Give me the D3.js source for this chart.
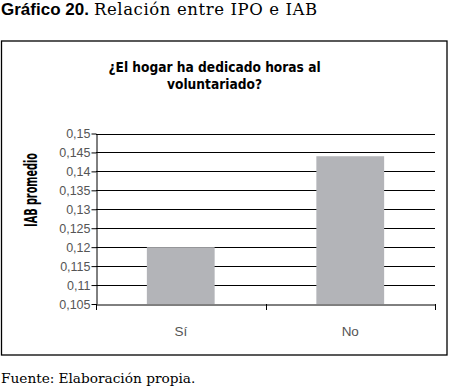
<!DOCTYPE html>
<html>
<head>
<meta charset="utf-8">
<script src="https://cdn.jsdelivr.net/npm/d3@7"></script>
<style>
    body { margin: 0; background: #fff; }
    svg { display: block; }
</style>
</head>
<body>
<div id="chart"></div>
<script>
    // datos del gráfico
    const categories = ["Sí", "No"]
    const values = [0.120, 0.144]
    const yTicks = [0.105, 0.11, 0.115, 0.12, 0.125, 0.13, 0.135, 0.14, 0.145, 0.15]

    const width = 449, height = 392
    const plot = { left: 96, right: 435, top: 133.5, bottom: 304 }

    const svg = d3.select("#chart").append("svg")
        .attr("width", width)
        .attr("height", height)

    const condensed = "'DejaVu Sans Condensed', 'Liberation Sans Narrow', sans-serif"
    const sans = "'Liberation Sans', Arial, sans-serif"
    const serif = "'DejaVu Serif', 'Liberation Serif', serif"

    // encabezado
    const header = svg.append("text")
        .attr("x", 1)
        .attr("y", 15)
        .style("font-size", "17px")
    header.append("tspan")
        .style("font-family", sans)
        .style("font-weight", "bold")
        .text("Gráfico 20.")
    header.append("tspan")
        .style("font-family", serif)
        .style("font-size", "16.5px")
        .style("letter-spacing", "0.6px")
        .attr("dx", 5)
        .text("Relación entre IPO e IAB")

    // marco
    svg.append("rect")
        .attr("x", 1.5)
        .attr("y", 41)
        .attr("width", 445.5)
        .attr("height", 314)
        .attr("fill", "none")
        .attr("stroke", "#000")
        .attr("stroke-width", 1.3)

    // título (condensado a mano)
    const title = svg.append("text")
        .attr("transform", "translate(214.5,0) scale(0.94,1)")
        .attr("text-anchor", "middle")
        .style("font-family", condensed)
        .style("font-weight", "bold")
        .style("font-size", "14.5px")
    title.append("tspan").attr("x", 0).attr("y", 72).text("¿El hogar ha dedicado horas al")
    title.append("tspan").attr("x", 0).attr("y", 89).text("voluntariado?")

    // escalas
    const x = d3.scaleBand()
        .domain(categories)
        .range([plot.left, plot.right])
        .paddingInner(0.6)
        .paddingOuter(0.3)

    const y = d3.scaleLinear()
        .domain([0.105, 0.15])
        .range([plot.bottom, plot.top])

    const fmt = d => d3.format("")(d).replace(".", ",")

    // líneas de cuadrícula
    svg.append("g")
        .selectAll("line")
        .data(yTicks.slice(1))
        .join("line")
        .attr("x1", plot.left)
        .attr("x2", plot.right)
        .attr("y1", d => Math.round(y(d)) + 0.5)
        .attr("y2", d => Math.round(y(d)) + 0.5)
        .attr("stroke", "#000")
        .attr("stroke-width", 1)

    // barras
    svg.append("g")
        .selectAll("rect")
        .data(values)
        .join("rect")
        .attr("x", (d, i) => x(categories[i]))
        .attr("y", d => y(d))
        .attr("width", x.bandwidth())
        .attr("height", d => y(0.105) - y(d))
        .attr("fill", "#b3b4b8")

    // eje y
    const yAxis = svg.append("g")
        .attr("transform", `translate(${plot.left + 0.5},0)`)
        .call(d3.axisLeft(y).tickValues(yTicks).tickFormat(fmt).tickSize(5).tickSizeOuter(0))
    yAxis.select(".domain").attr("stroke", "#000")
    yAxis.selectAll(".tick line").attr("stroke", "#000")
    yAxis.selectAll(".tick text")
        .attr("x", -6)
        .style("font-family", sans)
        .style("font-size", "12.5px")
        .attr("fill", "#555")

    // eje x
    const xAxis = svg.append("g")
        .attr("transform", `translate(0,${Math.round(plot.bottom) + 0.5})`)
        .call(d3.axisBottom(x).tickSize(0).tickSizeOuter(0))
    xAxis.select(".domain").attr("stroke", "#000")
    xAxis.selectAll(".tick text")
        .attr("dy", 0)
        .attr("y", 31)
        .style("font-family", sans)
        .style("font-size", "13.5px")
        .attr("fill", "#555")

    // marcas entre categorías
    const bounds = [plot.left, (plot.left + plot.right) / 2, plot.right]
    svg.append("g")
        .selectAll("line")
        .data(bounds)
        .join("line")
        .attr("x1", d => Math.round(d) + 0.5)
        .attr("x2", d => Math.round(d) + 0.5)
        .attr("y1", plot.bottom)
        .attr("y2", plot.bottom + 6)
        .attr("stroke", "#000")

    // título del eje y
    svg.append("text")
        .attr("transform", "translate(37,190) rotate(-90) scale(0.6,1)")
        .attr("text-anchor", "middle")
        .style("font-family", condensed)
        .style("font-weight", "bold")
        .style("font-size", "18px")
        .text("IAB promedio")

    // fuente
    const source = svg.append("text")
        .attr("x", 1)
        .attr("y", 383)
        .style("font-family", serif)
        .style("font-size", "13.7px")
    source.append("tspan").text("Fuente:")
    source.append("tspan").attr("dx", 4).text("Elaboración propia.")
</script>
</body>
</html>
